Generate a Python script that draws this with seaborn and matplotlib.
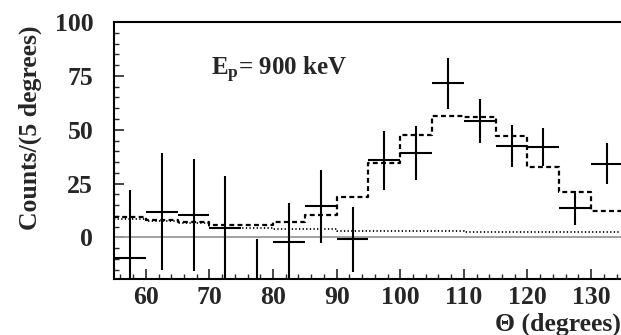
import numpy as np
import pandas as pd
import matplotlib
matplotlib.use("Agg")
import matplotlib.pyplot as plt
import seaborn as sns

# ---- data ----
bin_edges = [55, 60, 65, 70, 75, 80, 85, 90, 95, 100, 105, 110, 115, 120, 125, 130, 135]
theta = [57.5, 62.5, 67.5, 72.5, 77.5, 82.5, 87.5, 92.5, 97.5, 102.5, 107.5, 112.5, 117.5, 122.5, 127.5, 132.5]
counts = [-9.5, 12.0, 10.4, 4.5, -23.0, -2.3, 14.4, -0.9, 35.8, 39.3, 71.5, 54.0, 42.4, 41.8, 13.6, 34.3]
errors = [31.7, 27.2, 25.8, 23.9, 22.4, 18.5, 16.9, 15.0, 13.7, 12.5, 12.0, 10.1, 9.9, 8.8, 8.0, 9.6]
simulation = [9.3, 8.2, 7.1, 6.0, 6.0, 7.4, 10.4, 18.8, 34.6, 47.5, 56.2, 55.7, 47.0, 32.7, 21.1, 12.3]
background = [8.6, 7.6, 6.6, 4.6, 4.5, 4.0, 4.0, 3.0, 2.9, 2.8, 2.8, 2.7, 2.6, 2.6, 2.5, 2.5]
y_ticks = [0, 25, 50, 75, 100]
x_ticks = [60, 70, 80, 90, 100, 110, 120, 130]

sns.set_theme(style="ticks")
plt.rcParams['font.family'] = ['Liberation Serif', 'DejaVu Serif']
plt.rcParams['font.weight'] = 'bold'
plt.rcParams['mathtext.fontset'] = 'custom'
plt.rcParams['mathtext.rm'] = 'Liberation Serif:bold'
plt.rcParams['mathtext.it'] = 'Liberation Serif:bold'
plt.rcParams['mathtext.bf'] = 'Liberation Serif:bold'

fig = plt.figure(figsize=(6.21, 3.35), dpi=100)
ax = fig.add_axes([0.1836, 0.1657, 0.8164 + 0.003, 0.9343 - 0.1657])

# step histograms
sim_df = pd.DataFrame({"x": bin_edges, "y": simulation + [simulation[-1]]})
bg_df = pd.DataFrame({"x": bin_edges, "y": background + [background[-1]]})
sns.lineplot(data=sim_df, x="x", y="y", ax=ax, drawstyle="steps-post",
             color="black", lw=1.6, linestyle=(0, (2.2, 1.5)), sort=False)
sns.lineplot(data=bg_df, x="x", y="y", ax=ax, drawstyle="steps-post",
             color="black", lw=1.3, linestyle=(0, (0.7, 1.3)), sort=False)

ax.axhline(0, color="#9a9a9a", lw=1.3, zorder=1)

# data points with error bars
ax.errorbar(theta, counts, xerr=2.5, yerr=errors, fmt="none",
            ecolor="black", elinewidth=1.5, capsize=0, zorder=3)

ax.set_xlim(55, 135)
ax.set_ylim(-19.5, 100)
ax.set_xticks(x_ticks)
ax.set_yticks(y_ticks)
ax.set_xticks(np.arange(56, 135, 2), minor=True)
ax.set_yticks(np.arange(-15, 100, 5), minor=True)
ax.tick_params(axis="both", which="major", direction="in", length=7.2, width=1.2,
               labelsize=18.5)
ax.tick_params(axis="both", which="minor", direction="in", length=3.6, width=1.0)
ax.tick_params(axis="y", which="major", pad=15)
ax.tick_params(axis="x", which="major", pad=5)
for lbl in ax.get_xticklabels() + ax.get_yticklabels():
    lbl.set_fontweight("bold")

for s in ["left", "bottom", "top"]:
    ax.spines[s].set_linewidth(1.5)
    ax.spines[s].set_color("black")
ax.spines["right"].set_visible(False)

ax.set_xlabel("")
ax.set_ylabel("")
fig.text(0.048, 0.62, "Counts/(5 degrees)", rotation=90, ha="center", va="center",
         fontsize=18.5, fontweight="bold")
fig.text(0.999, 0.013, "\u0398 (degrees)", ha="right", va="baseline",
         fontsize=18.5, fontweight="bold")
ax.text(70.3, 75, r"E$_{\mathrm{p}}$= 900 keV", ha="left", va="baseline",
        fontsize=18, fontweight="bold")

fig.savefig("out.png", dpi=100)
